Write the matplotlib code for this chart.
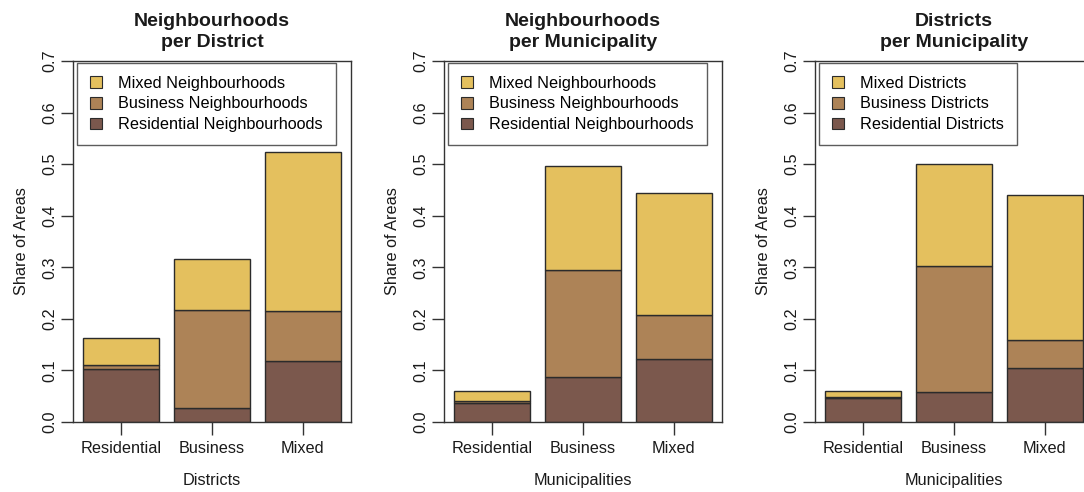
import matplotlib.pyplot as plt
import numpy as np
from matplotlib.patches import Patch

plt.rcParams['font.family'] = ['Liberation Sans', 'DejaVu Sans']

categories = ['Residential', 'Business', 'Mixed']

# stacked segment shares per panel: residential / business / mixed part
nd_res = [0.103, 0.028, 0.118]
nd_bus = [0.007, 0.190, 0.097]
nd_mix = [0.052, 0.099, 0.308]

nm_res = [0.036, 0.088, 0.123]
nm_bus = [0.005, 0.207, 0.084]
nm_mix = [0.020, 0.201, 0.238]

dm_res = [0.047, 0.059, 0.104]
dm_bus = [0.002, 0.244, 0.055]
dm_mix = [0.012, 0.197, 0.281]

titles = ['Neighbourhoods\nper District', 'Neighbourhoods\nper Municipality',
          'Districts\nper Municipality']
xlabels = ['Districts', 'Municipalities', 'Municipalities']
legend_labels = [
    ['Mixed Neighbourhoods', 'Business Neighbourhoods', 'Residential Neighbourhoods'],
    ['Mixed Neighbourhoods', 'Business Neighbourhoods', 'Residential Neighbourhoods'],
    ['Mixed Districts', 'Business Districts', 'Residential Districts'],
]
yticks = [0.0, 0.1, 0.2, 0.3, 0.4, 0.5, 0.6, 0.7]

c_res = '#7b584d'
c_bus = '#ad8357'
c_mix = '#e4c05e'
edge = '#2b2b2b'

W, H = 1084, 492
fig = plt.figure(figsize=(W / 100, H / 100), dpi=100)

panels = [(nd_res, nd_bus, nd_mix), (nm_res, nm_bus, nm_mix), (dm_res, dm_bus, dm_mix)]
lefts = [73, 444, 815]
ax_w, top, bottom = 278, 61, 422

for i, (res, bus, mix) in enumerate(panels):
    ax = fig.add_axes([lefts[i] / W, 1 - bottom / H, ax_w / W, (bottom - top) / H])
    x = np.array([0.7, 1.9, 3.1])
    res = np.array(res)
    bus = np.array(bus)
    mix = np.array(mix)
    kw = dict(width=1.0, edgecolor=edge, linewidth=1.0)
    ax.bar(x, res, color=c_res, **kw)
    ax.bar(x, bus, bottom=res, color=c_bus, **kw)
    ax.bar(x, mix, bottom=res + bus, color=c_mix, **kw)
    ax.set_xlim(0.064, 3.736)
    ax.set_ylim(0, 0.7)

    for s in ax.spines.values():
        s.set_color('#333333')
        s.set_linewidth(1.0)

    ax.set_yticks(yticks)
    ax.set_yticklabels(['%.1f' % v for v in yticks], rotation=90, va='center')
    ax.set_xticks(x)
    ax.set_xticklabels(categories)
    ax.tick_params(axis='both', direction='out', length=9, width=1.0,
                   color='#333333', labelsize=11.7, labelcolor='#1a1a1a')
    ax.tick_params(axis='y', pad=2)
    ax.tick_params(axis='x', pad=5)

    ax.set_title(titles[i], fontsize=14, fontweight='bold', linespacing=1.35,
                 pad=10, color='#1a1a1a')
    ax.set_xlabel(xlabels[i], fontsize=11.7, labelpad=12, color='#1a1a1a')
    ax.set_ylabel('Share of Areas', fontsize=11.7, labelpad=10, color='#1a1a1a')

    handles = [Patch(facecolor=c, edgecolor=edge, linewidth=0.8)
               for c in (c_mix, c_bus, c_res)]
    leg = ax.legend(handles, legend_labels[i], loc='upper left',
                    bbox_to_anchor=(0.014, 0.995), borderaxespad=0,
                    fontsize=11.7, frameon=True, fancybox=False,
                    handlelength=0.75, handleheight=0.75, handletextpad=1.0,
                    labelspacing=0.35, borderpad=0.8)
    leg.get_frame().set_edgecolor('#333333')
    leg.get_frame().set_linewidth(1.0)

fig.savefig('out.png', dpi=100)
